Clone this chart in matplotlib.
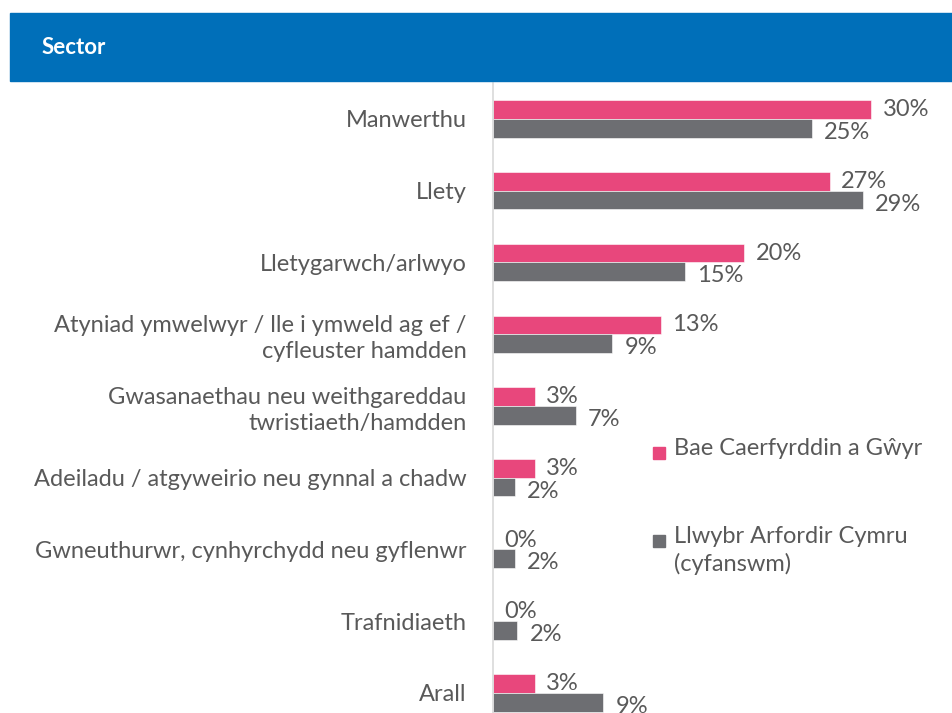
import matplotlib.pyplot as plt
from matplotlib.patches import Rectangle

categories = [
    "Manwerthu",
    "Llety",
    "Lletygarwch/arlwyo",
    "Atyniad ymwelwyr / lle i ymweld ag ef /\ncyfleuster hamdden",
    "Gwasanaethau neu weithgareddau\ntwristiaeth/hamdden",
    "Adeiladu / atgyweirio neu gynnal a chadw",
    "Gwneuthurwr, cynhyrchydd neu gyflenwr",
    "Trafnidiaeth",
    "Arall",
]
bae_values = [29.8, 26.5, 19.8, 13.2, 3.3, 3.3, 0.0, 0.0, 3.3]
bae_labels = ["30%", "27%", "20%", "13%", "3%", "3%", "0%", "0%", "3%"]
cymru_values = [25.1, 29.1, 15.1, 9.4, 6.5, 1.7, 1.7, 1.9, 8.7]
cymru_labels = ["25%", "29%", "15%", "9%", "7%", "2%", "2%", "2%", "9%"]
series_names = ["Bae Caerfyrddin a Gŵyr", "Llwybr Arfordir Cymru\n(cyfanswm)"]

pink = "#e8477c"
grey = "#6d6e72"
text_grey = "#595959"

plt.rcParams["font.family"] = ["Lato", "DejaVu Sans"]

W, H = 953, 713
fig = plt.figure(figsize=(W / 100, H / 100), dpi=100)

# header bar
fig.patches.append(Rectangle((10 / W, 1 - 81 / H), 943 / W, 68 / H,
                             transform=fig.transFigure, color="#006fb9", zorder=0))
fig.text(42 / W, 1 - 48 / H, "Sector", color="white", fontsize=16,
         fontweight="bold", va="center", ha="left")

# axes: left edge at x=493, top at y=83, bottom at figure edge
ax = fig.add_axes([493 / W, 0, 460 / W, (713 - 83) / H])
ypos = list(range(len(categories)))
h = 0.26
ax.barh([y - h / 2 for y in ypos], bae_values, height=h, color=pink,
        edgecolor="white", linewidth=0.4)
ax.barh([y + h / 2 for y in ypos], cymru_values, height=h, color=grey,
        edgecolor="white", linewidth=0.4)

for y, v, lab in zip(ypos, bae_values, bae_labels):
    ax.annotate(lab, (v, y - h / 2), xytext=(8, 0), textcoords="offset points",
                va="center", ha="left", fontsize=17, color=text_grey)
for y, v, lab in zip(ypos, cymru_values, cymru_labels):
    ax.annotate(lab, (v, y + h / 2), xytext=(9, -3), textcoords="offset points",
                va="center", ha="left", fontsize=17, color=text_grey)

ax.set_xlim(0, 460 / 12.7)
ax.set_ylim(8 + 20 / 71.75, -0.5)
ax.set_yticks(ypos)
ax.set_yticklabels(categories, fontsize=17, color=text_grey, linespacing=1.3)
ax.tick_params(axis="y", length=0, pad=19)
ax.set_xticks([])
for s in ["top", "right", "bottom"]:
    ax.spines[s].set_visible(False)
ax.spines["left"].set_color("#d9d9d9")
ax.spines["left"].set_linewidth(1.2)

# legend
for color, name, ytop in [(pink, series_names[0], 447), (grey, series_names[1], 535)]:
    fig.patches.append(Rectangle((653 / W, 1 - (ytop + 12) / H), 12 / W, 12 / H,
                                 transform=fig.transFigure, color=color))
    fig.text(674 / W, 1 - (ytop - 9) / H, name, fontsize=17, color=text_grey,
             va="top", ha="left", linespacing=1.3)

fig.savefig("out.png", dpi=100)
